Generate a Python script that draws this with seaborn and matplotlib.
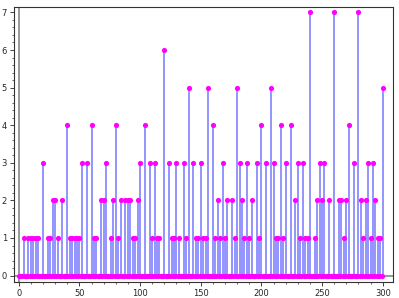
import numpy as np
import pandas as pd
import matplotlib
matplotlib.use("Agg")
import matplotlib.pyplot as plt
from matplotlib.ticker import MultipleLocator
import seaborn as sns

# even n with a non-zero count (every other n in 0..300 is 0)
stem_n = [4, 8, 10, 12, 14, 16, 20, 24, 26, 28, 30, 32, 36, 40, 42, 44, 46, 48, 50,
          52, 56, 60, 62, 64, 68, 70, 72, 76, 78, 80, 82, 84, 88, 90, 92, 94, 96, 98,
          100, 104, 108, 110, 112, 114, 116, 120, 124, 126, 128, 130, 132, 136, 138,
          140, 144, 146, 148, 150, 152, 154, 156, 160, 162, 164, 166, 168, 170, 172,
          176, 178, 180, 182, 184, 186, 188, 190, 192, 196, 198, 200, 204, 208, 210,
          212, 214, 216, 218, 220, 224, 228, 230, 232, 234, 236, 238, 240, 244, 246,
          248, 250, 252, 256, 260, 264, 266, 268, 270, 272, 276, 280, 282, 284, 286,
          288, 290, 292, 294, 296, 298, 300]
stem_val = [1, 1, 1, 1, 1, 1, 3, 1, 1, 2, 2, 1, 2, 4, 1, 1, 1, 1, 1,
            3, 3, 4, 1, 1, 2, 2, 3, 1, 2, 4, 1, 2, 2, 2, 2, 1, 1, 2,
            3, 4, 3, 1, 3, 1, 1, 6, 3, 1, 1, 3, 1, 3, 1,
            5, 3, 1, 1, 3, 1, 1, 5, 4, 1, 2, 1, 3, 1, 2,
            2, 1, 5, 3, 2, 1, 3, 1, 2, 3, 1, 4, 3, 5, 3,
            1, 1, 4, 1, 3, 4, 2, 3, 1, 3, 1, 1, 7, 1, 2,
            3, 2, 3, 2, 7, 2, 2, 1, 2, 4, 3, 7, 2, 1, 2,
            3, 1, 3, 2, 1, 1, 5]

n_all = np.arange(0, 301)
counts = pd.Series(0, index=n_all)
counts.loc[stem_n] = stem_val
df = pd.DataFrame({"n": n_all, "count": counts.values})

sns.set_style("ticks")
plt.rcParams["font.family"] = ["DejaVu Sans"]

fig = plt.figure(figsize=(3.99, 2.98), dpi=100)
ax = fig.add_axes([0.035, 0.055, 0.951, 0.921])

# axis lines through the origin
ax.axhline(0, color="#999999", lw=1.4, zorder=1)
ax.axvline(0, color="#999999", lw=1.4, zorder=1)

# stems
ax.vlines(df["n"], 0, df["count"], color="#9494ff", lw=1.4, zorder=2)
# points
sns.scatterplot(data=df, x="n", y="count", ax=ax, color="#ff00ff", s=14,
                linewidth=0, zorder=3, legend=False)

ax.set_xlim(-3.9, 308.8)
ax.set_ylim(-0.16, 7.14)
ax.xaxis.set_major_locator(MultipleLocator(50))
ax.xaxis.set_minor_locator(MultipleLocator(10))
ax.yaxis.set_major_locator(MultipleLocator(1))
ax.yaxis.set_minor_locator(MultipleLocator(0.2))
ax.tick_params(axis="both", which="major", labelsize=6, length=3, width=0.6, pad=2)
ax.tick_params(axis="both", which="minor", length=1.5, width=0.5)
ax.set_xlabel("")
ax.set_ylabel("")
for s in ax.spines.values():
    s.set_linewidth(0.8)
    s.set_color("#333333")

fig.savefig("out.png", dpi=100)
